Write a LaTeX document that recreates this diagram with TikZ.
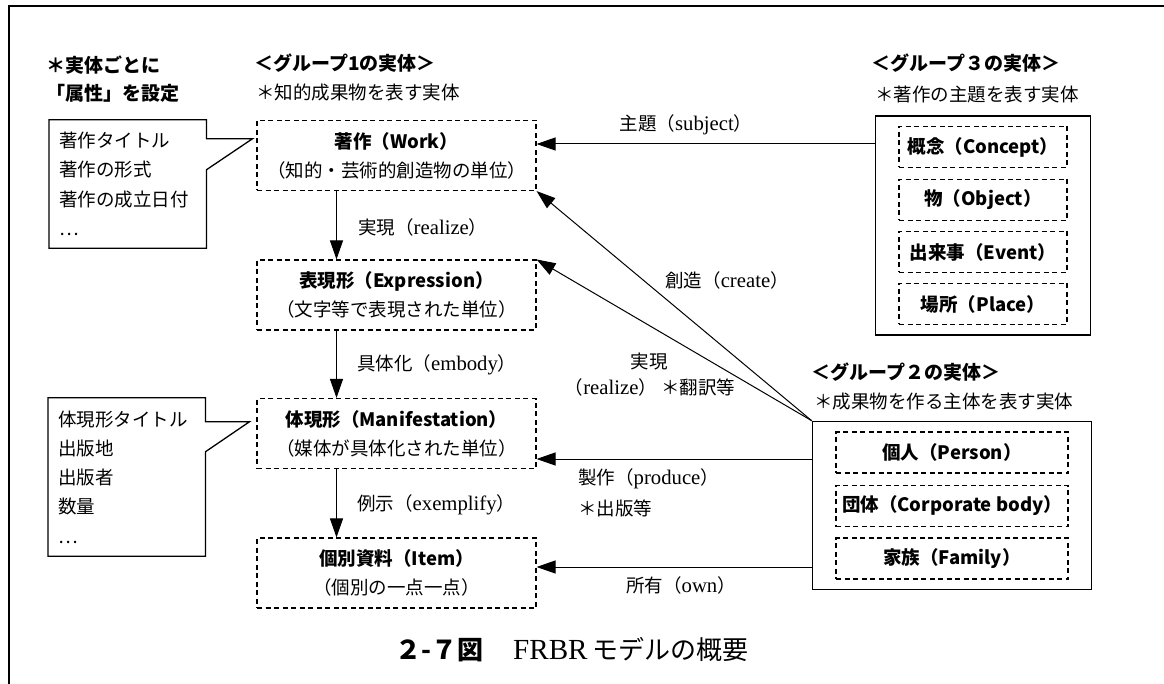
\documentclass[tikz,border=0pt]{standalone}
\usepackage{fontspec}
\setmainfont{Liberation Serif}[Scale=1.12]
\newfontfamily\jp{Noto Sans CJK JP}
\usetikzlibrary{arrows.meta,calc,positioning,fit}
\def\jrel#1#2{{\jp #1（}#2{\jp ）}}

\begin{document}
\begin{tikzpicture}
    [x=1pt,y=-1pt,
    font=\fontsize{18.5pt}{29pt}\selectfont,
    entity/.style={
      rectangle,
      draw=black,
      line width=1.1pt,
      dash pattern=on 5pt off 3.5pt,
      minimum width=279pt,
      minimum height=70pt,
      align=center,
      inner sep=0pt
    },
    member/.style={
      rectangle,
      draw=black,
      line width=1.1pt,
      dash pattern=on 5pt off 3.5pt,
      minimum height=41pt,
      inner sep=0pt,
      font=\fontsize{18.5pt}{29pt}\selectfont\jp\bfseries
    },
    group/.style={
      draw=black,
      line width=1.4pt,
      inner xsep=23pt,
      inner ysep=10pt
    },
    attr/.style={
      anchor=west,
      text width=137pt,
      inner xsep=10pt,
      inner ysep=0pt,
      align=left,
      font=\fontsize{18.5pt}{29.3pt}\selectfont\jp
    },
    outline/.style={
      draw=black,
      line width=1.3pt
    },
    rel/.style={
      draw,
      line width=1pt,
      -{Triangle[length=19pt,width=13pt]}
    },
    head/.style={
      anchor=west,
      inner sep=0pt,
      font=\fontsize{19pt}{29pt}\selectfont\jp\bfseries
    },
    note/.style={
      anchor=west,
      inner sep=0pt
    }
  ]
    \useasboundingbox (0,0) rectangle (1164,684);
    \draw[line width=2.5pt] (1164,6) -- (9,6) -- (9,684);

    \draw (46,65) node[head] (attrhead1) {＊実体ごとに};
    \draw (46,93) node[head] (attrhead2) {「属性」を設定};
    \draw (254,63) node[head] (g1head) {＜グループ1の実体＞};
    \draw (256,93) node[note] (g1note) {\jp ＊知的成果物を表す実体};
    \draw (871,63) node[head] (g3head) {＜グループ３の実体＞};
    \draw (875,95) node[note] (g3note) {\jp ＊著作の主題を表す実体};
    \draw (811,372) node[head] (g2head) {＜グループ２の実体＞};
    \draw (814,402) node[note] (g2note) {\jp ＊成果物を作る主体を表す実体};

    \draw (396.5,155.5) node[entity] (work) {{\jp\bfseries 著作（Work）}\\{\jp （知的・芸術的創造物の単位）}};
    \draw (396.5,295) node[entity] (expr) {{\jp\bfseries 表現形（Expression）}\\{\jp （文字等で表現された単位）}};
    \draw (396.5,433.5) node[entity] (mani) {{\jp\bfseries 体現形（Manifestation）}\\{\jp （媒体が具体化された単位）}};
    \draw (396.5,573) node[entity] (item) {{\jp\bfseries 個別資料（Item）}\\{\jp （個別の一点一点）}};

    \path (983,147) node[member,minimum width=168pt] (concept) {概念（Concept）}
          (983,200) node[member,minimum width=168pt] (object) {物（Object）}
          (983,252) node[member,minimum width=168pt] (event) {出来事（Event）}
          (983,304) node[member,minimum width=168pt] (place) {場所（Place）};
    \path (952,452.5) node[member,minimum width=232pt] (person) {個人（Person）}
          (952,506) node[member,minimum width=232pt] (corp) {団体（Corporate body）}
          (952,558.5) node[member,minimum width=232pt] (family) {家族（Family）};
    \node[group,fit=(concept)(place)] (grp3) {};
    \node[group,fit=(person)(family)] (grp2) {};

    \draw (49,184) node[attr,minimum height=128pt] (attrwork) {著作タイトル\\著作の形式\\著作の成立日付\\…};
    \draw (48,477) node[attr,minimum height=158pt] (attrmani) {体現形タイトル\\出版地\\出版者\\数量\\…};
    \coordinate (tip1) at ([xshift=46pt,yshift=-19pt]attrwork.north east);
    \coordinate (tip2) at ([xshift=44pt,yshift=-24pt]attrmani.north east);
    \draw[outline] (attrwork.north east) -- ([yshift=-19pt]attrwork.north east) -- (tip1)
      -- ([yshift=-50pt]attrwork.north east) -- (attrwork.south east) -- (attrwork.south west)
      -- (attrwork.north west) -- cycle;
    \draw[outline] (attrmani.north east) -- ([yshift=-24pt]attrmani.north east) -- (tip2)
      -- ([yshift=-54pt]attrmani.north east) -- (attrmani.south east) -- (attrmani.south west)
      -- (attrmani.north west) -- cycle;

    \draw[rel] ([xshift=-60pt]work.south) -- ([xshift=-60pt]expr.north);
        \draw (358,227) node[note] (lblrealize) {\jrel{実現}{realize}};
    \draw[rel] ([xshift=-60pt]expr.south) -- ([xshift=-60pt]mani.north);
        \draw (357,365) node[note] (lblembody) {\jrel{具体化}{embody}};
    \draw[rel] ([xshift=-60pt]mani.south) -- ([xshift=-60pt]item.north);
        \draw (357,505) node[note] (lblexemplify) {\jrel{例示}{exemplify}};

    \coordinate (subjend) at ([yshift=11.5pt]work.east);
    \draw[rel] (grp3.west |- subjend) -- (subjend);
        \draw (686,125) node (lblsubject) {\jrel{主題}{subject}};
    \draw[rel] (grp2.north west) -- (work.south east);
        \draw (727,280) node (lblcreate) {\jrel{創造}{create}};
    \draw[rel] (grp2.north west) -- (expr.north east);
        \draw (649,362) node (lblrealize2) {\jp 実現};
        \draw (650,387) node (lbltrans) {\jrel{}{realize}{\jp\ ＊翻訳等}};
    \coordinate (prodend) at ([yshift=-25.5pt]mani.east);
    \draw[rel] (grp2.west |- prodend) -- (prodend);
        \draw (578,479) node[note] (lblproduce) {\jrel{製作}{produce}};
        \draw (578,508) node[note] (lblpublish) {\jp ＊出版等};
    \coordinate (ownend) at ([yshift=6pt]item.east);
    \draw[rel] (grp2.west |- ownend) -- (ownend);
        \draw (681,585) node (lblown) {\jrel{所有}{own}};

    \draw (395,650) node[note,font=\fontsize{26pt}{30pt}\selectfont] (caption) {{\jp\bfseries ２-７図}\hspace{30pt}FRBR\,{\jp モデルの概要}};
\end{tikzpicture}
\end{document}
